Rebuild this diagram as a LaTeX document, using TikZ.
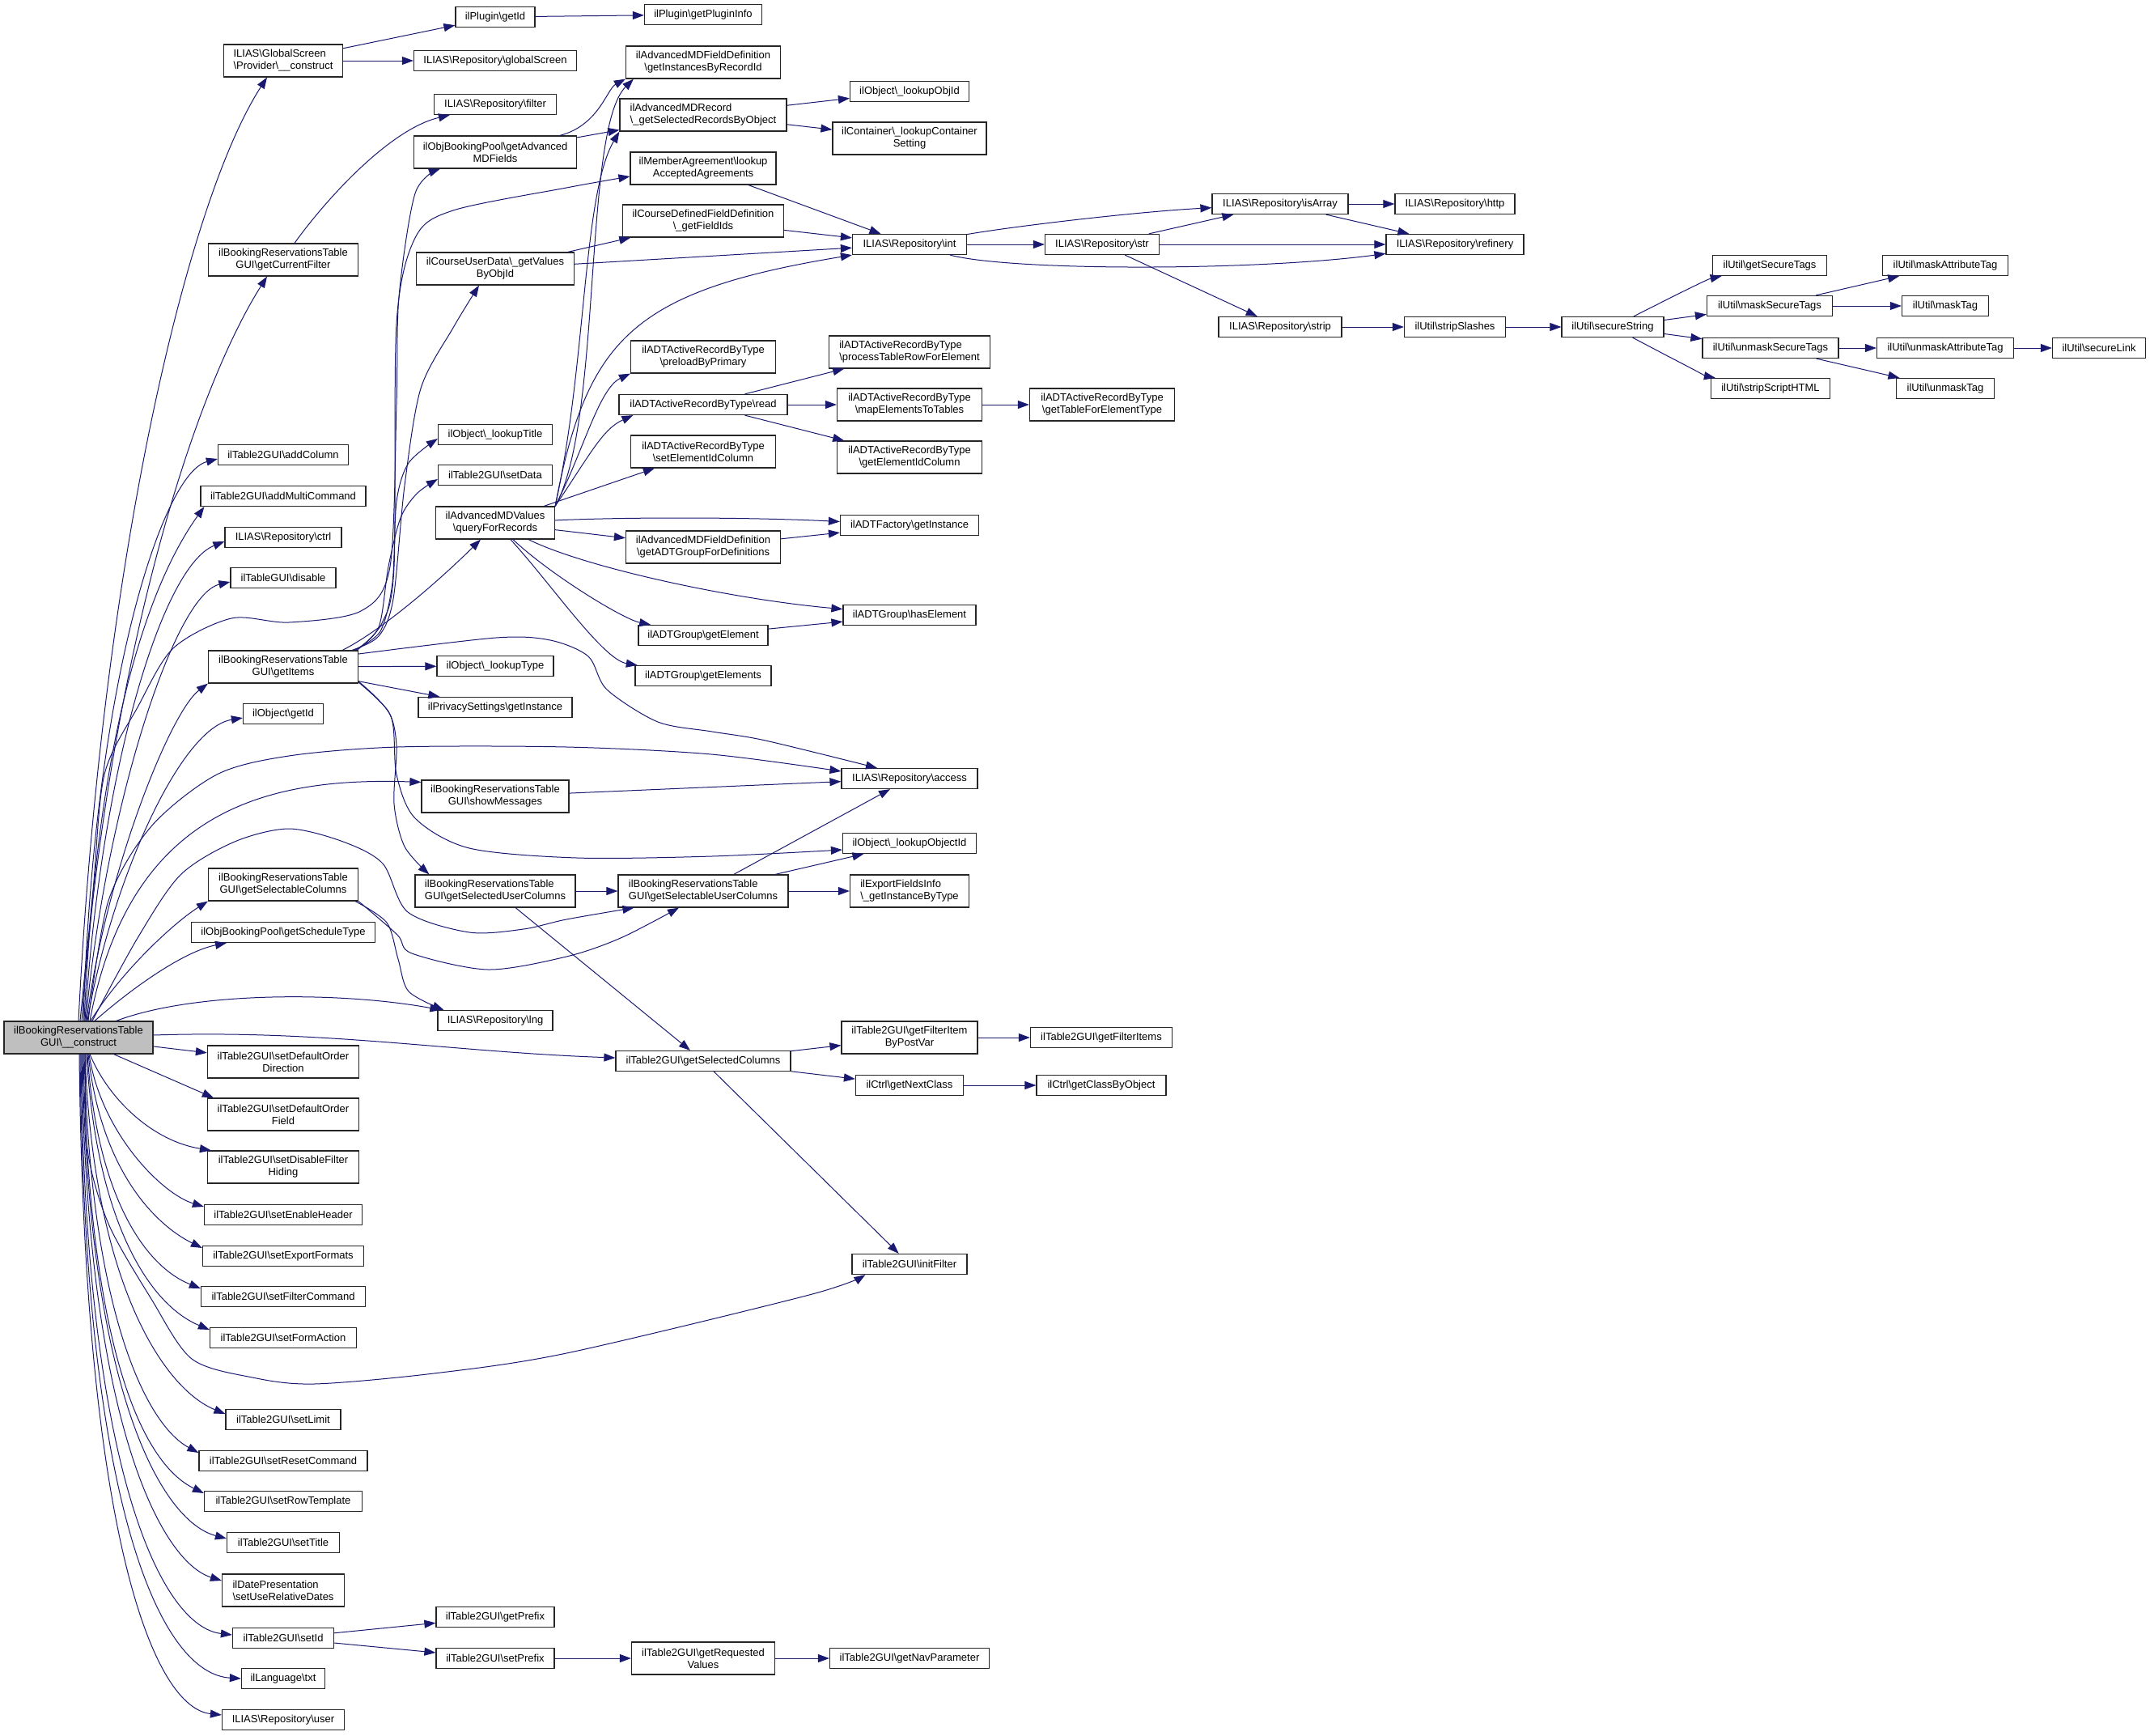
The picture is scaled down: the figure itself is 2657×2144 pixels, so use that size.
\documentclass[tikz,border=0pt]{standalone}
\usepackage{fontspec}
\setmainfont{Liberation Sans}
\usetikzlibrary{arrows.meta,calc}
\definecolor{edgeblue}{HTML}{191970}
\definecolor{maingray}{HTML}{BFBFBF}
\newcommand{\bks}{\textbackslash}
\begin{document}
\begin{tikzpicture}[x=1pt,y=-1pt,
  nbox/.style={draw=black!85, line width=1.2pt, fill=white, inner sep=2pt, minimum height=25pt,
    font=\fontsize{13}{15}\selectfont, align=center},
  nbox2/.style={nbox, minimum height=40pt},
  mainbox/.style={nbox2, fill=maingray},
  cedge/.style={draw=edgeblue, line width=1pt, -{Triangle[length=14pt,width=10pt]}}]
\useasboundingbox (0,0) rectangle (2657,2144);

% ---------- main node
\node[mainbox, minimum width=184pt] (M) at (97,1282) {ilBookingReservationsTable\\GUI\bks{}\_\_construct};

% ---------- column 1
\node[nbox2, minimum width=147pt, align=left] (gs) at (350,75) {ILIAS\bks{}GlobalScreen\\\bks{}Provider\bks{}\_\_construct};
\node[nbox2, minimum width=185pt] (gcf) at (350,321) {ilBookingReservationsTable\\GUI\bks{}getCurrentFilter};
\node[nbox, minimum width=161pt] (addcol) at (350,562) {ilTable2GUI\bks{}addColumn};
\node[nbox, minimum width=204pt] (addmc) at (350,613) {ilTable2GUI\bks{}addMultiCommand};
\node[nbox, minimum width=144pt] (ctrl) at (350,664) {ILIAS\bks{}Repository\bks{}ctrl};
\node[nbox, minimum width=130pt] (disable) at (350,714) {ilTableGUI\bks{}disable};
\node[nbox2, minimum width=185pt] (getitems) at (350,824) {ilBookingReservationsTable\\GUI\bks{}getItems};
\node[nbox, minimum width=99pt] (objgetid) at (350,882) {ilObject\bks{}getId};
\node[nbox2, minimum width=185pt] (gselcols) at (350,1093) {ilBookingReservationsTable\\GUI\bks{}getSelectableColumns};
\node[nbox, minimum width=227pt] (gsched) at (350,1152) {ilObjBookingPool\bks{}getScheduleType};
\node[nbox2, minimum width=187pt] (sdod) at (350,1312) {ilTable2GUI\bks{}setDefaultOrder\\Direction};
\node[nbox2, minimum width=187pt] (sdof) at (350,1377) {ilTable2GUI\bks{}setDefaultOrder\\Field};
\node[nbox2, minimum width=187pt] (sdfh) at (350,1442) {ilTable2GUI\bks{}setDisableFilter\\Hiding};
\node[nbox, minimum width=195pt] (seh) at (350,1501) {ilTable2GUI\bks{}setEnableHeader};
\node[nbox, minimum width=199pt] (sef) at (350,1552) {ilTable2GUI\bks{}setExportFormats};
\node[nbox, minimum width=203pt] (sfc) at (350,1602) {ilTable2GUI\bks{}setFilterCommand};
\node[nbox, minimum width=181pt] (sfa) at (350,1653) {ilTable2GUI\bks{}setFormAction};
\node[nbox, minimum width=142pt] (slim) at (350,1754) {ilTable2GUI\bks{}setLimit};
\node[nbox, minimum width=208pt] (src) at (350,1805) {ilTable2GUI\bks{}setResetCommand};
\node[nbox, minimum width=195pt] (srt) at (350,1855) {ilTable2GUI\bks{}setRowTemplate};
\node[nbox, minimum width=139pt] (stitle) at (350,1906) {ilTable2GUI\bks{}setTitle};
\node[nbox2, minimum width=151pt, align=left] (surd) at (350,1965) {ilDatePresentation\\\bks{}setUseRelativeDates};
\node[nbox, minimum width=125pt] (setid) at (350,2024) {ilTable2GUI\bks{}setId};
\node[nbox, minimum width=103pt] (txt) at (350,2074) {ilLanguage\bks{}txt};
\node[nbox, minimum width=151pt] (user) at (350,2125) {ILIAS\bks{}Repository\bks{}user};

% ---------- column 2
\node[nbox, minimum width=98pt] (pgetid) at (612,21) {ilPlugin\bks{}getId};
\node[nbox, minimum width=201pt] (gscreen) at (612,75) {ILIAS\bks{}Repository\bks{}globalScreen};
\node[nbox, minimum width=151pt] (filter) at (612,129) {ILIAS\bks{}Repository\bks{}filter};
\node[nbox2, minimum width=201pt] (gamd) at (612,188) {ilObjBookingPool\bks{}getAdvanced\\MDFields};
\node[nbox2, minimum width=195pt] (gvals) at (612,332) {ilCourseUserData\bks{}\_getValues\\ByObjId};
\node[nbox, minimum width=141pt] (ltitle) at (612,537) {ilObject\bks{}\_lookupTitle};
\node[nbox, minimum width=141pt] (setdata) at (612,587) {ilTable2GUI\bks{}setData};
\node[nbox2, minimum width=147pt] (qfr) at (612,646) {ilAdvancedMDValues\\\bks{}queryForRecords};
\node[nbox, minimum width=144pt] (ltype) at (612,823) {ilObject\bks{}\_lookupType};
\node[nbox, minimum width=190pt] (privacy) at (612,874) {ilPrivacySettings\bks{}getInstance};
\node[nbox2, minimum width=182pt] (showmsg) at (612,984) {ilBookingReservationsTable\\GUI\bks{}showMessages};
\node[nbox2, minimum width=198pt, align=left] (gseluc) at (612,1101) {ilBookingReservationsTable\\GUI\bks{}getSelectedUserColumns};
\node[nbox, minimum width=142pt] (lng) at (612,1261) {ILIAS\bks{}Repository\bks{}lng};
\node[nbox, minimum width=146pt] (gprefix) at (612,1998) {ilTable2GUI\bks{}getPrefix};
\node[nbox, minimum width=146pt] (sprefix) at (612,2049) {ilTable2GUI\bks{}setPrefix};

% ---------- column 3
\node[nbox, minimum width=145pt] (pinfo) at (869,18) {ilPlugin\bks{}getPluginInfo};
\node[nbox2, minimum width=191pt] (ginst) at (869,77) {ilAdvancedMDFieldDefinition\\\bks{}getInstancesByRecordId};
\node[nbox2, minimum width=206pt, align=left] (gselrec) at (869,142) {ilAdvancedMDRecord\\\bks{}\_getSelectedRecordsByObject};
\node[nbox2, minimum width=180pt] (lagree) at (869,208) {ilMemberAgreement\bks{}lookup\\AcceptedAgreements};
\node[nbox2, minimum width=199pt] (gfids) at (869,273) {ilCourseDefinedFieldDefinition\\\bks{}\_getFieldIds};
\node[nbox2, minimum width=179pt] (preload) at (869,441) {ilADTActiveRecordByType\\\bks{}preloadByPrimary};
\node[nbox, minimum width=208pt] (read) at (869,500) {ilADTActiveRecordByType\bks{}read};
\node[nbox2, minimum width=179pt] (setelid) at (869,558) {ilADTActiveRecordByType\\\bks{}setElementIdColumn};
\node[nbox2, minimum width=191pt] (adtgrp) at (869,676) {ilAdvancedMDFieldDefinition\\\bks{}getADTGroupForDefinitions};
\node[nbox, minimum width=160pt] (getel) at (869,785) {ilADTGroup\bks{}getElement};
\node[nbox, minimum width=168pt] (getels) at (869,835) {ilADTGroup\bks{}getElements};
\node[nbox2, minimum width=210pt, align=left] (gsuc) at (869,1101) {ilBookingReservationsTable\\GUI\bks{}getSelectableUserColumns};
\node[nbox, minimum width=216pt] (gselcolsT) at (869,1311) {ilTable2GUI\bks{}getSelectedColumns};
\node[nbox2, minimum width=177pt] (greq) at (869,2049) {ilTable2GUI\bks{}getRequested\\Values};

% ---------- column 4
\node[nbox, minimum width=147pt] (lobjid) at (1124,113) {ilObject\bks{}\_lookupObjId};
\node[nbox2, minimum width=190pt] (lcont) at (1124,171) {ilContainer\bks{}\_lookupContainer\\Setting};
\node[nbox, minimum width=141pt] (int) at (1124,302) {ILIAS\bks{}Repository\bks{}int};
\node[nbox2, minimum width=199pt, align=left] (ptrfe) at (1124,435) {ilADTActiveRecordByType\\\bks{}processTableRowForElement};
\node[nbox2, minimum width=179pt] (mett) at (1124,500) {ilADTActiveRecordByType\\\bks{}mapElementsToTables};
\node[nbox2, minimum width=179pt] (geic) at (1124,565) {ilADTActiveRecordByType\\\bks{}getElementIdColumn};
\node[nbox, minimum width=171pt] (adtf) at (1124,649) {ilADTFactory\bks{}getInstance};
\node[nbox, minimum width=164pt] (hasel) at (1124,760) {ilADTGroup\bks{}hasElement};
\node[nbox, minimum width=168pt] (access) at (1124,962) {ILIAS\bks{}Repository\bks{}access};
\node[nbox, minimum width=165pt] (lobjectid) at (1124,1042) {ilObject\bks{}\_lookupObjectId};
\node[nbox2, minimum width=147pt, align=left] (expf) at (1124,1101) {ilExportFieldsInfo\\\bks{}\_getInstanceByType};
\node[nbox2, minimum width=168pt] (gfibpv) at (1124,1282) {ilTable2GUI\bks{}getFilterItem\\ByPostVar};
\node[nbox, minimum width=133pt] (gnext) at (1124,1341) {ilCtrl\bks{}getNextClass};
\node[nbox, minimum width=142pt] (initf) at (1124,1562) {ilTable2GUI\bks{}initFilter};
\node[nbox, minimum width=197pt] (gnav) at (1124,2049) {ilTable2GUI\bks{}getNavParameter};

% ---------- column 5+
\node[nbox, minimum width=141pt] (str) at (1362,302) {ILIAS\bks{}Repository\bks{}str};
\node[nbox2, minimum width=179pt] (gtfet) at (1362,500) {ilADTActiveRecordByType\\\bks{}getTableForElementType};
\node[nbox, minimum width=175pt] (gfitems) at (1361,1282) {ilTable2GUI\bks{}getFilterItems};
\node[nbox, minimum width=160pt] (gcbo) at (1361,1341) {ilCtrl\bks{}getClassByObject};
\node[nbox, minimum width=168pt] (isarray) at (1582,252) {ILIAS\bks{}Repository\bks{}isArray};
\node[nbox, minimum width=152pt] (strip) at (1582,404) {ILIAS\bks{}Repository\bks{}strip};
\node[nbox, minimum width=148pt] (http) at (1798,252) {ILIAS\bks{}Repository\bks{}http};
\node[nbox, minimum width=170pt] (refinery) at (1798,302) {ILIAS\bks{}Repository\bks{}refinery};
\node[nbox, minimum width=125pt] (stripsl) at (1798,404) {ilUtil\bks{}stripSlashes};
\node[nbox, minimum width=126pt] (secstr) at (1993,404) {ilUtil\bks{}secureString};
\node[nbox, minimum width=141pt] (gst) at (2187,328) {ilUtil\bks{}getSecureTags};
\node[nbox, minimum width=155pt] (mst) at (2187,378) {ilUtil\bks{}maskSecureTags};
\node[nbox, minimum width=168pt] (umst) at (2188,430) {ilUtil\bks{}unmaskSecureTags};
\node[nbox, minimum width=147pt] (sshtml) at (2188,480) {ilUtil\bks{}stripScriptHTML};
\node[nbox, minimum width=155pt] (mat) at (2404,328) {ilUtil\bks{}maskAttributeTag};
\node[nbox, minimum width=107pt] (mtag) at (2404,378) {ilUtil\bks{}maskTag};
\node[nbox, minimum width=169pt] (umat) at (2404,430) {ilUtil\bks{}unmaskAttributeTag};
\node[nbox, minimum width=121pt] (umtag) at (2404,480) {ilUtil\bks{}unmaskTag};
\node[nbox, minimum width=115pt] (slink) at (2594,430) {ilUtil\bks{}secureLink};

% ---------- edges from the main node (upwards)
\draw[cedge] (M.north) .. controls (125,700) and (230,250) .. ($(gs.south)+(-20,0)$);
\draw[cedge] plot[smooth] coordinates {($(M.north)+(2,0)$) (115,1100) (129,957) (170,874) (214,801) (286,764) (357,769) (446,755) (482,700) (490,500) (493,367) (513,239) ($(gamd.south west)+(33,0)$)};
\draw[cedge] ($(M.north)+(4,0)$) .. controls (130,850) and (230,500) .. ($(gcf.south)+(-20,0)$);
\draw[cedge] ($(M.north)+(6,0)$) .. controls (115,850) and (200,585) .. ($(addcol.west)+(0,5)$);
\draw[cedge] ($(M.north)+(7,0)$) .. controls (120,900) and (185,720) .. ($(addmc.south west)+(5,0)$);
\draw[cedge] ($(M.north)+(8,0)$) .. controls (125,950) and (200,700) .. ($(ctrl.west)+(0,5)$);
\draw[cedge] ($(M.north)+(9,0)$) .. controls (130,1000) and (215,735) .. ($(disable.west)+(0,5)$);
\draw[cedge] ($(M.north)+(10,0)$) .. controls (130,1080) and (210,880) .. (getitems.south west);
\draw[cedge] ($(M.north)+(11,0)$) .. controls (135,1100) and (220,900) .. ($(objgetid.west)+(0,5)$);
\draw[cedge] plot[smooth] coordinates {($(M.north)+(12,0)$) (134,1113) (187,1021) (268,957) (357,934) (491,923) (700,923) (879,932) ($(access.west)+(0,-9)$)};
\draw[cedge] ($(M.north)+(14,0)$) .. controls (160,1000) and (330,960) .. ($(showmsg.north west)+(0,3)$);
\draw[cedge] ($(M.north)+(15,0)$) .. controls (150,1200) and (215,1140) .. (gselcols.south west);
\draw[cedge] plot[smooth] coordinates {($(M.north)+(17,0)$) (170,1159) (223,1081) (290,1040) (357,1024) (424,1040) (473,1067) (504,1127) (580,1152) (647,1148) (700,1136) ($(gsuc.south west)+(20,0)$)};
\draw[cedge] ($(M.north)+(20,0)$) .. controls (170,1215) and (230,1175) .. ($(gsched.south)+(-70,0)$);
\draw[cedge] ($(M.north east)+(-46,0)$) .. controls (240,1225) and (420,1225) .. ($(lng.north west)+(5,0)$);
\draw[cedge] ($(M.east)+(0,-3)$) .. controls (400,1272) and (560,1300) .. ($(gselcolsT.west)+(0,-4)$);
\draw[cedge] (M) -- (sdod);
\draw[cedge] ($(M.south east)+(-49,0)$) -- ($(sdof.north west)+(8,0)$);

% ---------- edges from the main node (downwards)
\draw[cedge] ($(M.south)+(14,0)$) .. controls (135,1360) and (190,1410) .. ($(sdfh.north west)+(5,0)$);
\draw[cedge] ($(M.south)+(13,0)$) .. controls (125,1400) and (200,1475) .. ($(seh.west)+(0,-10)$);
\draw[cedge] ($(M.south)+(12,0)$) .. controls (125,1450) and (195,1515) .. ($(sef.west)+(0,-10)$);
\draw[cedge] ($(M.south)+(11,0)$) .. controls (120,1480) and (180,1565) .. ($(sfc.west)+(0,-10)$);
\draw[cedge] ($(M.south)+(10,0)$) .. controls (118,1500) and (180,1610) .. ($(sfa.west)+(0,-10)$);
\draw[cedge] plot[smooth] coordinates {($(M.south)+(9,0)$) (108,1420) (134,1512) (187,1605) (237,1679) (312,1702) (388,1710) (536,1697) (700,1672) (1000,1600) ($(initf.south west)+(17,0)$)};
\draw[cedge] ($(M.south)+(8,0)$) .. controls (115,1580) and (200,1715) .. ($(slim.west)+(0,-7)$);
\draw[cedge] ($(M.south)+(7,0)$) .. controls (112,1620) and (180,1760) .. ($(src.west)+(0,-10)$);
\draw[cedge] ($(M.south)+(6,0)$) .. controls (110,1680) and (180,1810) .. ($(srt.west)+(0,-10)$);
\draw[cedge] ($(M.south)+(5,0)$) .. controls (108,1720) and (200,1880) .. ($(stitle.west)+(0,-5)$);
\draw[cedge] ($(M.south)+(4,0)$) .. controls (107,1760) and (200,1930) .. ($(surd.west)+(0,-12)$);
\draw[cedge] ($(M.south)+(3,0)$) .. controls (105,1820) and (200,2010) .. ($(setid.west)+(0,-4)$);
\draw[cedge] ($(M.south)+(2,0)$) .. controls (104,1870) and (200,2068) .. (txt.west);
\draw[cedge] ($(M.south)+(1,0)$) .. controls (104,1900) and (190,2110) .. ($(user.west)+(0,-6)$);

% ---------- column 1 -> column 2
\draw[cedge] (gs) -- (pgetid);
\draw[cedge] (gs) -- (gscreen);
\draw[cedge] ($(gcf.north)+(14,0)$) .. controls (400,250) and (480,160) .. ($(filter.south west)+(20,0)$);
\draw[cedge] (getitems) -- (ltype);
\draw[cedge] (getitems) -- (privacy);
\draw[cedge] plot[smooth] coordinates {($(getitems.east)+(0,-16)$) (613,788) (680,791) (727,811) (750,852) (813,892) (880,904) (946,915) ($(access.north)+(-40,0)$)};
\draw[cedge] plot[smooth] coordinates {($(getitems.east)+(0,18)$) (483,885) (490,957) (513,1011) (580,1048) (713,1060) (880,1058) ($(lobjectid.west)+(0,8)$)};
\draw[cedge] plot[smooth] coordinates {($(getitems.east)+(0,19)$) (480,879) (490,921) (487,993) (500,1046) ($(gseluc.north west)+(18,0)$)};
\draw[cedge] ($(getitems.north east)+(-20,0)$) .. controls (470,780) and (540,720) .. ($(qfr.south)+(-18,0)$);
\draw[cedge] plot[smooth] coordinates {($(getitems.north east)+(-8,0)$) (468,786) (486,740) (500,600) (520,480) (560,405) ($(gvals.south)+(-20,0)$)};
\draw[cedge] plot[smooth] coordinates {($(getitems.north east)+(-6,0)$) (470,780) (485,720) (490,620) (505,572) ($(ltitle.west)+(0,5)$)};
\draw[cedge] plot[smooth] coordinates {($(getitems.north east)+(-4,0)$) (468,775) (480,700) (495,640) (515,610) ($(setdata.west)+(0,5)$)};
\draw[cedge] plot[smooth] coordinates {($(getitems.north east)+(-2,0)$) (472,770) (487,700) (490,400) (513,294) (560,260) (700,232) ($(lagree.west)+(0,10)$)};
\draw[cedge] plot[smooth] coordinates {(gselcols.south east) (491,1155) (509,1178) (603,1198) (700,1182) (767,1159) ($(gsuc.south)+(-30,0)$)};
\draw[cedge] plot[smooth] coordinates {($(gselcols.south east)+(-4,0)$) (478,1140) (492,1185) (505,1225) ($(lng.north west)+(8,0)$)};
\draw[cedge] (setid) -- (gprefix);
\draw[cedge] (setid) -- (sprefix);

% ---------- column 2 -> right
\draw[cedge] (pgetid) -- (pinfo);
\draw[cedge] (gamd) .. controls (740,155) and (750,110) .. (ginst.south west);
\draw[cedge] (gamd) -- (gselrec);
\draw[cedge] (gvals) -- (gfids);
\draw[cedge] (gvals) -- (int);
\draw[cedge] (qfr.north east) .. controls (745,520) and (720,160) .. ($(ginst.south west)+(10,0)$);
\draw[cedge] (qfr.north east) .. controls (725,450) and (720,240) .. (gselrec.south west);
\draw[cedge] (qfr.north east) .. controls (725,420) and (780,360) .. (int.south west);
\draw[cedge] (qfr.north east) .. controls (720,560) and (740,480) .. (preload.south west);
\draw[cedge] (qfr.north east) .. controls (730,560) and (745,530) .. ($(read.south west)+(18,0)$);
\draw[cedge] (qfr) -- (setelid);
\draw[cedge] (qfr) .. controls (800,638) and (950,640) .. (adtf);
\draw[cedge] (qfr) -- (adtgrp);
\draw[cedge] (qfr) .. controls (720,700) and (900,740) .. (hasel);
\draw[cedge] (qfr) .. controls (680,710) and (770,765) .. (getel);
\draw[cedge] (qfr) .. controls (680,720) and (745,815) .. (getels);
\draw[cedge] (showmsg) -- (access);
\draw[cedge] (gseluc) -- (gsuc);
\draw[cedge] (gseluc) -- (gselcolsT);
\draw[cedge] (sprefix) -- (greq);

% ---------- column 3 -> right
\draw[cedge] (gselrec) -- (lobjid);
\draw[cedge] (gselrec) -- (lcont);
\draw[cedge] (lagree) -- (int);
\draw[cedge] (gfids) -- (int);
\draw[cedge] (read) -- (ptrfe);
\draw[cedge] (read) -- (mett);
\draw[cedge] (read) -- (geic);
\draw[cedge] (adtgrp) -- (adtf);
\draw[cedge] (getel) -- (hasel);
\draw[cedge] (gsuc) -- (access);
\draw[cedge] (gsuc) -- (lobjectid);
\draw[cedge] (gsuc) -- (expf);
\draw[cedge] (gselcolsT) -- (gfibpv);
\draw[cedge] (gselcolsT) -- (gnext);
\draw[cedge] (gselcolsT) -- (initf);
\draw[cedge] (greq) -- (gnav);

% ---------- further right
\draw[cedge] (mett) -- (gtfet);
\draw[cedge] (gfibpv) -- (gfitems);
\draw[cedge] (gnext) -- (gcbo);
\draw[cedge] (int) .. controls (1250,280) and (1400,262) .. (isarray);
\draw[cedge] (int) -- (str);
\draw[cedge] (int) .. controls (1250,335) and (1550,335) .. (refinery);
\draw[cedge] (str) -- (isarray);
\draw[cedge] (str) -- (refinery);
\draw[cedge] (str) -- (strip);
\draw[cedge] (isarray) -- (http);
\draw[cedge] (isarray) -- (refinery);
\draw[cedge] (strip) -- (stripsl);
\draw[cedge] (stripsl) -- (secstr);
\draw[cedge] (secstr) .. controls (2070,365) and (2110,345) .. (gst);
\draw[cedge] (secstr) -- (mst);
\draw[cedge] (secstr) -- (umst);
\draw[cedge] (secstr) .. controls (2070,445) and (2110,465) .. (sshtml);
\draw[cedge] (mst) -- (mat);
\draw[cedge] (mst) -- (mtag);
\draw[cedge] (umst) -- (umat);
\draw[cedge] (umst) -- (umtag);
\draw[cedge] (umat) -- (slink);
\end{tikzpicture}
\end{document}
